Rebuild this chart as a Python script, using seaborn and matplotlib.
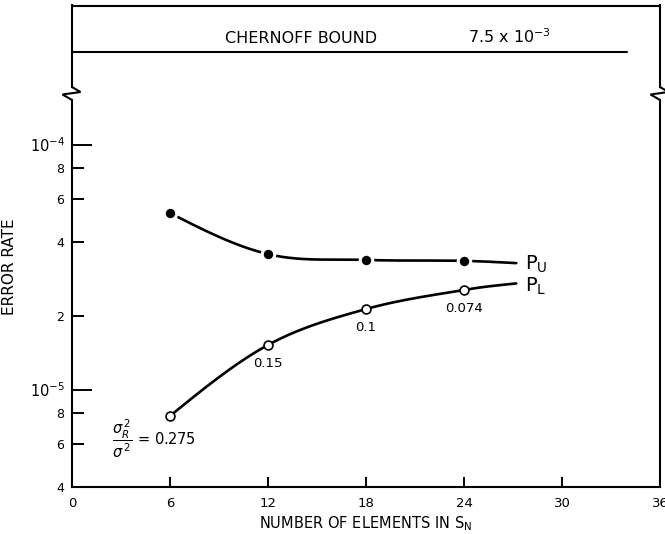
import numpy as np
import pandas as pd
import matplotlib
matplotlib.use("Agg")
import matplotlib.pyplot as plt
from matplotlib.lines import Line2D
import seaborn as sns

# ---- values -------------------------------------------------------------
elements = [6, 12, 18, 24]                       # number of elements in S_N
p_upper = [5.25e-5, 3.57e-5, 3.38e-5, 3.35e-5]   # P_U (filled dots)
p_lower = [7.8e-6, 1.52e-5, 2.13e-5, 2.55e-5]    # P_L (open dots)
ratio_labels = ["0.275", "0.15", "0.1", "0.074"]  # sigma_R^2 / sigma^2
curve_end_x = 27.2
p_upper_end = 3.28e-5
p_lower_end = 2.71e-5
chernoff_bound = 7.5e-3
chernoff_end_x = 34.0

x_ticks = [0, 6, 12, 18, 24, 30, 36]
y_major = [1e-5, 1e-4]
y_major_labels = [r"$10^{-5}$", r"$10^{-4}$"]
y_minor = [4e-6, 6e-6, 8e-6, 2e-5, 4e-5, 6e-5, 8e-5]
y_minor_labels = ["4", "6", "8", "2", "4", "6", "8"]

# ---- style --------------------------------------------------------------
sns.set_style("white")
plt.rcParams["font.family"] = ["DejaVu Sans"]
plt.rcParams["mathtext.fontset"] = "dejavusans"
for key in ["text.color", "axes.labelcolor", "xtick.color", "ytick.color",
            "axes.edgecolor"]:
    plt.rcParams[key] = "black"

W, H, DPI = 665, 534, 100
fig = plt.figure(figsize=(W / DPI, H / DPI), dpi=DPI)
fig.patch.set_facecolor("white")

# axes frames in pixels
left_px, right_px = 72, 660
bot_px, mid_lo_px = 487, 100     # lower panel
mid_hi_px, top_px = 87, 5.5      # upper (broken) panel


def frac_box(x0, x1, ytop, ybot):
    return [x0 / W, 1 - ybot / H, (x1 - x0) / W, (ybot - ytop) / H]


ax = fig.add_axes(frac_box(left_px, right_px, mid_lo_px, bot_px))
ax_top = fig.add_axes(frac_box(left_px, right_px, top_px, mid_hi_px))

px_per_decade = 245.0
ylo = 4e-6
yhi = ylo * 10 ** ((bot_px - mid_lo_px) / px_per_decade)

LW_AX = 1.5
LW_CURVE = 1.9


def smooth(xs, ys, n=120):
    """Cubic Hermite curve through the points, in log10(y)."""
    xs = np.asarray(xs, float)
    ly = np.log10(np.asarray(ys, float))
    h = np.diff(xs)
    s = np.diff(ly) / h
    m = np.empty_like(ly)
    m[1:-1] = (ly[2:] - ly[:-2]) / (xs[2:] - xs[:-2])
    m[0] = 1.5 * s[0] - 0.5 * m[1]
    m[-1] = 1.5 * s[-1] - 0.5 * m[-2]
    cx, cy = [], []
    t = np.linspace(0, 1, n)
    h00 = 2 * t**3 - 3 * t**2 + 1
    h10 = t**3 - 2 * t**2 + t
    h01 = -2 * t**3 + 3 * t**2
    h11 = t**3 - t**2
    for i in range(len(h)):
        y = h00 * ly[i] + h10 * h[i] * m[i] + h01 * ly[i + 1] + h11 * h[i] * m[i + 1]
        cx.append(xs[i] + t * h[i])
        cy.append(10 ** y)
    return np.concatenate(cx), np.concatenate(cy)


ux, uy = smooth(elements + [curve_end_x], p_upper + [p_upper_end])
lx, ly = smooth(elements + [curve_end_x], p_lower + [p_lower_end])
curves = pd.concat([
    pd.DataFrame({"x": ux, "y": uy, "series": "PU"}),
    pd.DataFrame({"x": lx, "y": ly, "series": "PL"}),
])
pts = pd.DataFrame({"x": elements, "pu": p_upper, "pl": p_lower})

ax.set_yscale("log")
sns.lineplot(data=curves, x="x", y="y", units="series", estimator=None,
             color="black", lw=LW_CURVE, ax=ax, zorder=2, sort=False)
sns.scatterplot(data=pts, x="x", y="pu", ax=ax, color="black", s=9.0**2,
                edgecolor="white", linewidth=2.2, zorder=4)
sns.scatterplot(data=pts, x="x", y="pl", ax=ax, color="white", s=6.4**2,
                edgecolor="black", linewidth=1.2, zorder=4)

ax.set_xlim(0, 36)
ax.set_ylim(ylo, yhi)

# ticks
ax.set_xticks(x_ticks, labels=[str(v) for v in x_ticks])
ax.set_yticks(y_major, labels=y_major_labels)
ax.set_yticks(y_minor, labels=y_minor_labels, minor=True)
ax.tick_params(axis="x", direction="in", length=7.2, width=1.4,
               labelsize=9.5, pad=7, bottom=True, top=False)
ax.tick_params(axis="y", which="major", direction="in", length=14.4,
               width=1.4, labelsize=10.5, pad=5, left=True, right=False)
ax.tick_params(axis="y", which="minor", direction="in", length=8.6,
               width=1.4, labelsize=9, pad=5.5, left=True, right=False)

for side in ["left", "right", "bottom"]:
    ax.spines[side].set_linewidth(LW_AX)
    ax.spines[side].set_color("black")
ax.spines["top"].set_visible(False)
ax.grid(False)

ax.set_xlabel(r"NUMBER OF ELEMENTS IN $\mathrm{S_N}$", fontsize=10.5,
              labelpad=3)
ax.set_ylabel("ERROR RATE", fontsize=11)
ax.yaxis.set_label_coords((17 - left_px) / (right_px - left_px),
                          (bot_px - 267) / (bot_px - mid_lo_px))

# ratio labels under the open points
for i, (xv, yv, lab) in enumerate(zip(elements, p_lower, ratio_labels)):
    if i == 0:
        ax.annotate(r"$\dfrac{\sigma_R^{\,2}}{\sigma^{\,2}}$ = " + lab,
                    xy=(xv, yv), xytext=(-41.5, -16.5),
                    textcoords="offset points", ha="left", va="center",
                    fontsize=10.5)
    else:
        ax.annotate(lab, xy=(xv, yv), xytext=(0, -8.5),
                    textcoords="offset points", ha="center", va="top",
                    fontsize=9.5)

# series names at the curve ends
ax.annotate(r"$\mathrm{P_U}$", xy=(curve_end_x, p_upper_end), xytext=(6.5, -5),
            textcoords="offset points", ha="left", va="baseline", fontsize=14)
ax.annotate(r"$\mathrm{P_L}$", xy=(curve_end_x, p_lower_end), xytext=(6.5, -6),
            textcoords="offset points", ha="left", va="baseline", fontsize=14)

# ---- broken upper panel with the Chernoff bound -------------------------
ax_top.set_yscale("log")
tlo = chernoff_bound / 10 ** ((mid_hi_px - 52) / px_per_decade)
thi = chernoff_bound * 10 ** ((52 - top_px) / px_per_decade)
ax_top.set_ylim(tlo, thi)
ax_top.set_xlim(0, 36)
sns.lineplot(x=[0, chernoff_end_x], y=[chernoff_bound] * 2, ax=ax_top,
             color="black", lw=LW_AX)
ax_top.set_xticks([])
ax_top.set_yticks([])
ax_top.minorticks_off()
ax_top.set_xlabel("")
ax_top.set_ylabel("")
for side in ["left", "right", "top"]:
    ax_top.spines[side].set_linewidth(LW_AX)
    ax_top.spines[side].set_color("black")
ax_top.spines["bottom"].set_visible(False)
ax_top.annotate("CHERNOFF BOUND", xy=(14.0, chernoff_bound), xytext=(0, 4.5),
                textcoords="offset points", ha="center", va="bottom",
                fontsize=11.5)
ax_top.annotate(r"7.5 x 10$^{-3}$", xy=(26.8, chernoff_bound), xytext=(0, 4.5),
                textcoords="offset points", ha="center", va="bottom",
                fontsize=11.5)

# zigzag break symbols joining the two panels
zig_dx = np.array([0, 8.5, -9.5, 0])
zig_y = np.array([mid_hi_px, 92, 94.5, mid_lo_px])
for xs in (left_px, right_px):
    fig.add_artist(Line2D((xs + zig_dx) / W, 1 - zig_y / H,
                          transform=fig.transFigure, color="black",
                          lw=LW_AX, solid_joinstyle="miter"))

fig.savefig("out.png", dpi=DPI, facecolor="white")
